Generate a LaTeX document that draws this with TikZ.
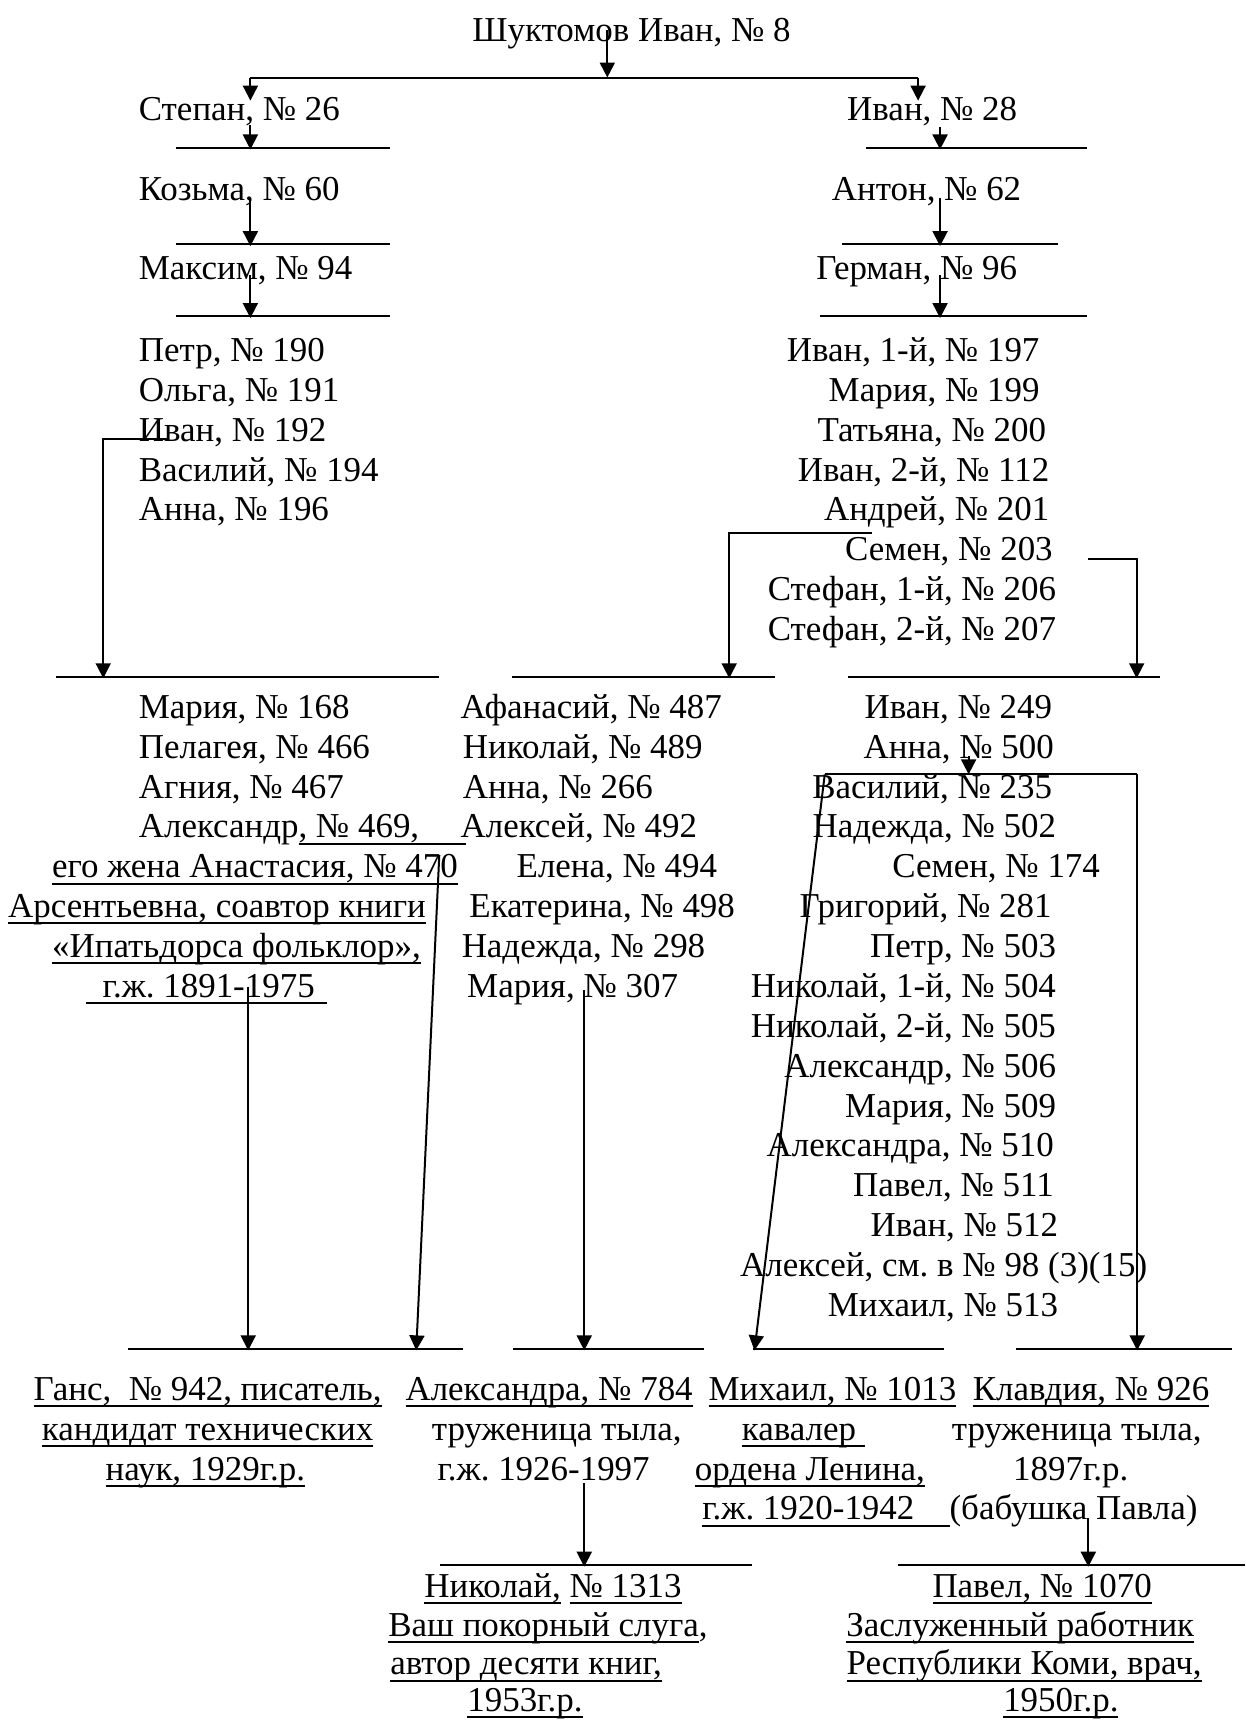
\documentclass[tikz,border=0pt]{standalone}
\usepackage{fontspec}
\setmainfont{Liberation Serif}
\usetikzlibrary{arrows.meta}
\frenchspacing

\newcommand{\undl}[1]{\setbox0=\hbox{#1}\rlap{\rule[-2.7pt]{\wd0}{0.8pt}}\box0\relax}

\begin{document}
\begin{tikzpicture}[x=0.44pt,y=-0.44pt]
\tikzstyle{every node}=[inner sep=0pt, yshift=-0.7pt, font=\fontsize{14}{16}\selectfont]
\tikzstyle{lw}=[anchor=base west]
\tikzstyle{le}=[anchor=base east]
\tikzstyle{lc}=[anchor=base]
\tikzstyle{genline}=[line width=0.8pt]
\tikzstyle{arr}=[line width=0.8pt, -{Triangle[length=6pt,width=6pt]}]
\useasboundingbox (0,0) rectangle (1134,1568);

% first generations
\draw (575,36.5) node (ivan8) [lc] {Шуктомов Иван, № 8};
\draw (126,108) node (stepan26) [lw] {Степан, № 26};
\draw (771,108) node (ivan28) [lw] {Иван, № 28};
\draw (126,181) node (kozma60) [lw] {Козьма, № 60};
\draw (757,181) node (anton62) [lw] {Антон, № 62};
\draw (126,253) node (maksim94) [lw] {Максим, № 94};
\draw (743,253) node (german96) [lw] {Герман, № 96};

% children of Maksim
\draw (126,327.5) node (petr190) [lw] {Петр, № 190};
\draw (126,363.8) node (olga191) [lw] {Ольга, № 191};
\draw (126,400.1) node (ivan192) [lw] {Иван, № 192};
\draw (126,436.4) node (vasilij194) [lw] {Василий, № 194};
\draw (126,472.7) node (anna196) [lw] {Анна, № 196};

% children of German
\draw (947,327.5) node (ivan197) [le] {Иван, 1-й, № 197};
\draw (947,363.8) node (marija199) [le] {Мария, № 199};
\draw (953,400.1) node (tatjana200) [le] {Татьяна, № 200};
\draw (956,436.4) node (ivan112) [le] {Иван, 2-й, № 112};
\draw (956,472.7) node (andrej201) [le] {Андрей, № 201};
\draw (959,509.0) node (semen203) [le] {Семен, № 203};
\draw (962,545.3) node (stefan206) [le] {Стефан, 1-й, № 206};
\draw (962,581.6) node (stefan207) [le] {Стефан, 2-й, № 207};

% children of Ivan 192
\draw (126,652.5) node (marija168) [lw] {Мария, № 168};
\draw (126,688.8) node (pelageja466) [lw] {Пелагея, № 466};
\draw (126,725.1) node (agnija467) [lw] {Агния, № 467};
\draw (126,761.4) node (aleksandr469) [lw] {Александр\undl{\makebox[66.9pt][l]{, № 469,}}};
\draw (47,797.7) node (anastasija470) [lw] {\undl{его жена Анастасия, № 470}};
\draw (7,834.0) node (arsentjevna) [lw] {\undl{Арсентьевна, соавтор книги}};
\draw (47,870.3) node (folklor) [lw] {\undl{«Ипатьдорса фольклор»,}};
\draw (78,906.6) node (gzh1891) [lw] {\undl{\makebox[96.4pt][l]{\hspace{6.6pt}г.ж. 1891-1975}}};

% children of Andrej 201
\draw (419,652.5) node (afanasij487) [lw] {Афанасий, № 487};
\draw (421,688.8) node (nikolaj489) [lw] {Николай, № 489};
\draw (421,725.1) node (anna266) [lw] {Анна, № 266};
\draw (419,761.4) node (aleksej492) [lw] {Алексей, № 492};
\draw (470,797.7) node (elena494) [lw] {Елена, № 494};
\draw (427,834.0) node (ekaterina498) [lw] {Екатерина, № 498};
\draw (420,870.3) node (nadezhda298) [lw] {Надежда, № 298};
\draw (425,906.6) node (marija307) [lw] {Мария, № 307};

% children of Semen 203
\draw (958.5,652.5) node (ivan249) [le] {Иван, № 249};
\draw (960,688.8) node (anna500) [le] {Анна, № 500};
\draw (958.5,725.1) node (vasilij235) [le] {Василий, № 235};
\draw (962,761.4) node (nadezhda502) [le] {Надежда, № 502};
\draw (1002,797.7) node (semen174) [le] {Семен, № 174};
\draw (958,834.0) node (grigorij281) [le] {Григорий, № 281};
\draw (962,870.3) node (petr503) [le] {Петр, № 503};
\draw (962,906.6) node (nikolaj504) [le] {Николай, 1-й, № 504};
\draw (962,942.9) node (nikolaj505) [le] {Николай, 2-й, № 505};
\draw (962,979.2) node (aleksandr506) [le] {Александр, № 506};
\draw (962,1015.5) node (marija509) [le] {Мария, № 509};
\draw (960,1051.8) node (aleksandra510) [le] {Александра, № 510};
\draw (960,1088.1) node (pavel511) [le] {Павел, № 511};
\draw (964,1124.4) node (ivan512) [le] {Иван, № 512};
\draw (1045,1160.7) node (aleksej98) [le] {Алексей, см. в № 98 (3)(15)};
\draw (964,1197.0) node (mihail513) [le] {Михаил, № 513};

% grandchildren
\draw (189,1273.5) node (gans942) [lc] {\undl{Ганс,\ \ № 942, писатель,}};
\draw (189,1309.8) node (gans2) [lc] {\undl{кандидат технических}};
\draw (187,1346.1) node (gans3) [lc] {\undl{наук, 1929г.р.}};
\draw (500,1273.5) node (aleksandra784) [lc] {\undl{Александра, № 784}};
\draw (507,1309.8) node (aleksandra2) [lc] {труженица тыла,};
\draw (495,1346.1) node (aleksandra3) [lc] {г.ж. 1926-1997};
\draw (758,1273.5) node (mihail1013) [lc] {\undl{Михаил, № 1013}};
\draw (675,1309.8) node (mihail2) [lw] {\undl{кавалер\hspace{3.5pt}}};
\draw (737.5,1346.1) node (mihail3) [lc] {\undl{ордена Ленина,}};
\draw (639,1382.4) node (mihail4) [lw] {\undl{\makebox[99.4pt][l]{г.ж. 1920-1942}}};
\draw (993.5,1273.5) node (klavdija926) [lc] {\undl{Клавдия, № 926}};
\draw (980.5,1309.8) node (klavdija2) [lc] {труженица тыла,};
\draw (975,1346.1) node (klavdija3) [lc] {1897г.р.};
\draw (977.5,1382.4) node (klavdija4) [lc] {(бабушка Павла)};

% last generation
\draw (503.5,1453) node (nikolaj1313) [lc] {\undl{Николай,} \undl{№ 1313}};
\draw (499,1488.5) node (nikolaj2) [lc] {\undl{Ваш покорный слуга},};
\draw (479,1523.5) node (nikolaj3) [lc] {\undl{автор десяти книг,}};
\draw (478,1557) node (nikolaj4) [lc] {\undl{1953г.р.}};
\draw (949,1453) node (pavel1070) [lc] {\undl{Павел, № 1070}};
\draw (929,1488.5) node (pavel2) [lc] {\undl{Заслуженный работник}};
\draw (932.5,1523.5) node (pavel3) [lc] {\undl{Республики Коми, врач,}};
\draw (966,1557) node (pavel4) [lc] {\undl{1950г.р.}};

% lines and arrows
\coordinate (a0) at (553,26);
\coordinate (a1) at (553,69);
\coordinate (b1) at (228,69);
\coordinate (b2) at (836,69);
\coordinate (b1x) at (228,90);
\coordinate (b2x) at (836,90);
\draw[arr] (a0) -- (a1);
\draw[genline] (b1) -- (b2);
\draw[arr] (b1) -- (b1x);
\draw[arr] (b2) -- (b2x);

\coordinate (s0) at (228,112);
\coordinate (s1) at (228,134.5);
\draw[arr] (s0) -- (s1);
\draw[genline] (160,134.5) -- (355,134.5);
\coordinate (i0) at (856,114);
\coordinate (i1) at (856,134.5);
\draw[arr] (i0) -- (i1);
\draw[genline] (789,134.5) -- (990,134.5);

\coordinate (k0) at (228,179);
\coordinate (k1) at (228,222.5);
\draw[arr] (k0) -- (k1);
\draw[genline] (160,222.5) -- (355,222.5);
\coordinate (t0) at (856,179);
\coordinate (t1) at (856,222.5);
\draw[arr] (t0) -- (t1);
\draw[genline] (767,222.5) -- (963,222.5);

\coordinate (m0) at (228,249);
\coordinate (m1) at (228,288);
\draw[arr] (m0) -- (m1);
\draw[genline] (160,288) -- (355,288);
\coordinate (g0) at (856,249);
\coordinate (g1) at (856,288);
\draw[arr] (g0) -- (g1);
\draw[genline] (747,288) -- (990,288);

\coordinate (c0) at (152,397.7);
\coordinate (c1) at (94,616);
\draw[arr] (c0) -| (c1);
\draw[genline] (51,616) -- (400,616);
\coordinate (d0) at (794,484);
\coordinate (d1) at (664,616);
\draw[arr] (d0) -| (d1);
\draw[genline] (466,616) -- (706,616);
\coordinate (e0) at (991,507);
\coordinate (e1) at (1035,616);
\draw[arr] (e0) -| (e1);
\draw[genline] (772,616) -- (1056,616);

\coordinate (f0) at (226,897);
\coordinate (f1) at (226,1228);
\draw[arr] (f0) -- (f1);
\coordinate (h0) at (400,777);
\coordinate (h1) at (379,1228);
\draw[arr] (h0) -- (h1);
\draw[genline] (117,1228) -- (422,1228);
\coordinate (p0) at (532,900);
\coordinate (p1) at (532,1228);
\draw[arr] (p0) -- (p1);
\draw[genline] (467,1228) -- (641,1228);

\coordinate (q0) at (882,687);
\coordinate (q1) at (882,703.5);
\draw[arr] (q0) -- (q1);
\coordinate (q2) at (751,703.5);
\coordinate (q3) at (1035.5,703.5);
\draw[genline] (q2) -- (q3);
\coordinate (q4) at (687,1228);
\coordinate (q5) at (1035.5,1228);
\draw[arr] (q2) -- (q4);
\draw[arr] (q3) -- (q5);
\draw[genline] (685.5,1228) -- (859.5,1228);
\draw[genline] (925,1228) -- (1122,1228);

\coordinate (u0) at (532,1349);
\coordinate (u1) at (532,1425);
\draw[arr] (u0) -- (u1);
\draw[genline] (400.6,1425) -- (685,1425);
\coordinate (w0) at (991,1381);
\coordinate (w1) at (991,1425);
\draw[arr] (w0) -- (w1);
\draw[genline] (817.5,1425) -- (1134,1425);
\end{tikzpicture}
\end{document}
